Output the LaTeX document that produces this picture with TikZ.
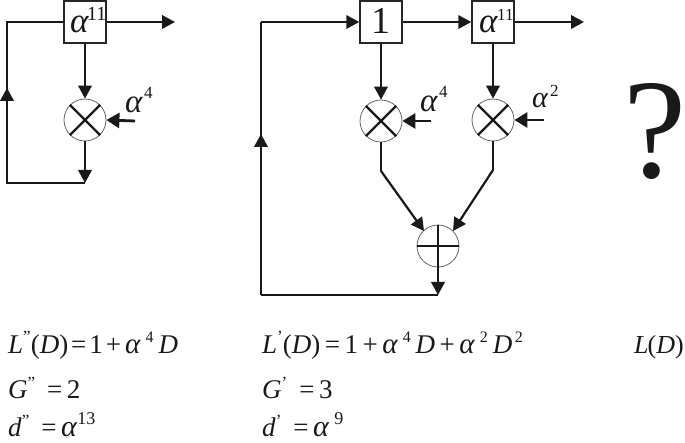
\documentclass[tikz,border=0pt]{standalone}
\usepackage{fontspec}
\setmainfont{Liberation Serif}
\usetikzlibrary{arrows.meta}
\newcommand{\fs}[1]{\fontsize{#1}{#1}\selectfont}
\newcommand{\al}{\textit{α}}
\newcommand{\up}[3]{\raisebox{#1pt}{\fs{#2}#3}}
\newcommand{\ii}[1]{\textit{#1}}
\tikzset{
  wire/.style={line width=2.2pt,draw=black!90},
  arr/.style={wire,-{Triangle[length=13pt,width=13.5pt]}},
  thickarr/.style={line width=2.8pt,draw=black!90,-{Triangle[length=13pt,width=15pt]}},
  regbox/.style={draw=black!85,line width=1.5pt,minimum width=42pt,minimum height=42pt,inner sep=0pt,fill=white},
  opcirc/.style={circle,draw=black!60,line width=0.8pt,minimum size=42pt,inner sep=0pt,fill=white},
  lbl/.style={inner sep=0pt,anchor=base west,text=black!90},
  eqn/.style={lbl,font=\fs{27}}
}
\begin{document}
\begin{tikzpicture}[x=1pt,y=-1pt]
\useasboundingbox (0,0) rectangle (685,443);
% ---------- left circuit
\node[regbox] (a) at (85,22) {};
\node[opcirc] (ma) at (85,120) {};
\coordinate (aout) at (175,22);
\coordinate (acornT) at (7,22);
\coordinate (acornB) at (7,183);
\coordinate (amid) at (7,88);
\coordinate (abot) at (85,183);
\coordinate (ain) at (135,121);
\draw[wire] (a.west) -- (acornT) -- (acornB) -- (abot);
\draw[arr] (acornB) -- (amid);
\draw[arr] (a.east) -- (aout);
\draw[arr] (a.south) -- (ma.north);
\draw[arr] (ma.south) -- (abot);
\draw[thickarr] (ain) -- (ma.east);
\draw[wire] (ma.45) -- (ma.225) (ma.135) -- (ma.315);
\node[lbl] (at1) at (70,33) {\fs{35}\al};
\node[lbl] (at2) at (87,21) {\fs{20}11};
\node[lbl] (at3) at (125,113) {\fs{33}\al};
\node[lbl] (at4) at (144,99) {\fs{17}4};
% ---------- middle circuit
\node[regbox] (b) at (381,22) {};
\node[regbox] (c) at (493,22) {};
\node[opcirc] (mb) at (381,121) {};
\node[opcirc] (mc) at (493,120) {};
\node[opcirc] (s) at (438,246) {};
\coordinate (bl) at (261,22);
\coordinate (bb) at (261,295);
\coordinate (bmid) at (261,134);
\coordinate (bend) at (438,295);
\coordinate (cout) at (584,22);
\coordinate (kb) at (381,171);
\coordinate (kc) at (493,170);
\coordinate (sl) at (424,231);
\coordinate (sr) at (453,231);
\coordinate (inb) at (431,121);
\coordinate (inc) at (544,120);
\draw[wire] (bb) -- (bl);
\draw[wire] (bb) -- (bend);
\draw[arr] (bb) -- (bmid);
\draw[arr] (bl) -- (b.west);
\draw[arr] (b.east) -- (c.west);
\draw[arr] (c.east) -- (cout);
\draw[arr] (b.south) -- (mb.north);
\draw[arr] (c.south) -- (mc.north);
\draw[thickarr] (inb) -- (mb.east);
\draw[thickarr] (inc) -- (mc.east);
\draw[wire] (mb.45) -- (mb.225) (mb.135) -- (mb.315);
\draw[wire] (mc.45) -- (mc.225) (mc.135) -- (mc.315);
\draw[wire] (mb.south) -- (kb);
\draw[wire] (mc.south) -- (kc);
\draw[arr] (kb) -- (sl);
\draw[arr] (kc) -- (sr);
\draw[wire,line width=1.6pt] (s.west) -- (s.east);
\draw[wire,line width=1.6pt] (s.north) -- (s.south);
\draw[arr] (s.south) -- (bend);
\node[lbl] (bt) at (371,34) {\fs{38}1};
\node[lbl] (ct1) at (479,33) {\fs{35}\al};
\node[lbl] (ct2) at (497,21) {\fs{17}11};
\node[lbl] (bt1) at (420,112) {\fs{33}\al};
\node[lbl] (bt2) at (439,98) {\fs{17}4};
\node[lbl] (ct3) at (532,108) {\fs{30}\al};
\node[lbl] (ct4) at (550,97) {\fs{17}2};
% ---------- question mark
\node[lbl] (q) at (623,178) {\fs{142}?};
% ---------- equations
\node[eqn] (e1) at (8,353) {\ii{L}\up{10}{17}{"}(\ii{D})\hspace{3pt}=\hspace{3pt}1\hspace{3pt}+\hspace{4pt}\fs{29}\al\,\up{10}{16}{4}\,\fs{27}\ii{D}};
\node[eqn] (e2) at (8,398) {\ii{G}\up{10}{17}{"}\;\,=\,2};
\node[eqn] (e3) at (8,436) {\ii{d}\up{10}{17}{"}\;\,=\,\fs{30}\al\up{12}{18}{13}};
\node[eqn] (f1) at (262,353) {\ii{L}\up{10}{17}{'}(\ii{D})\,=\,1\,+\,\fs{29}\al\,\up{10}{16}{4}\,\fs{27}\ii{D}\,+\,\fs{29}\al\,\up{10}{16}{2}\,\fs{27}\ii{D}\up{10}{16}{\,2}};
\node[eqn] (f2) at (262,398) {\ii{G}\up{10}{17}{'}\;\,=\,3};
\node[eqn] (f3) at (262,436) {\ii{d}\up{10}{17}{'}\;\,=\,\fs{30}\al\,\up{12}{18}{9}};
\node[eqn] (g1) at (634,353) {\fs{26}\ii{L}\hspace{-1pt}(\ii{D})};
\end{tikzpicture}
\end{document}
